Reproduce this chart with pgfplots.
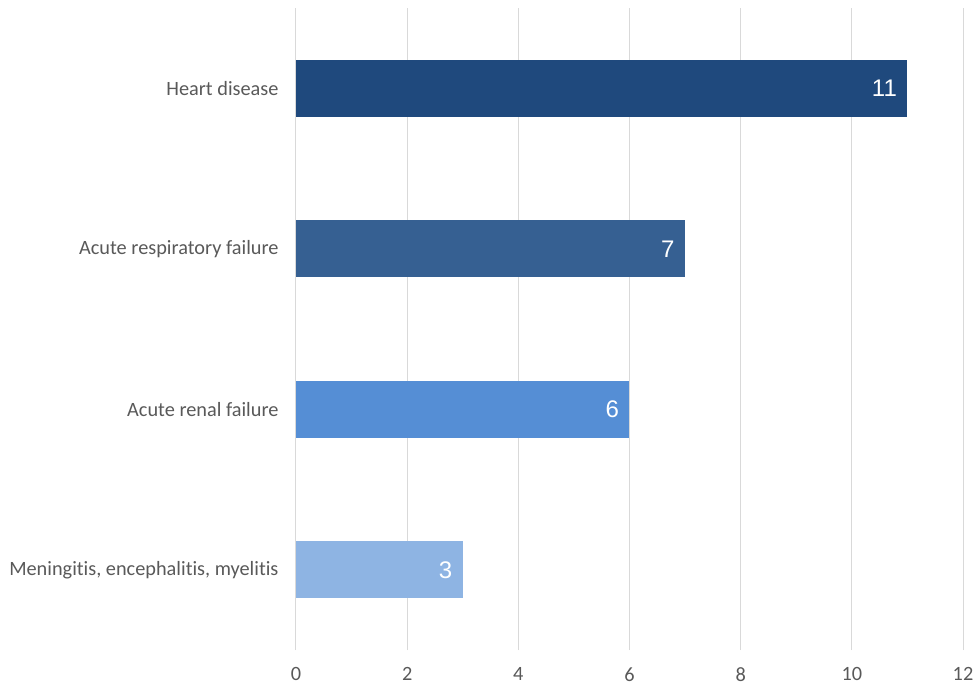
\documentclass[border=0pt]{standalone}
\usepackage{pgfplots}
\pgfplotsset{compat=1.18}
\usepackage{fontspec}
\setmainfont[Ligatures=NoCommon]{Carlito}
\newfontfamily\arialfont{Liberation Sans}
\definecolor{c1}{RGB}{31,73,125}
\definecolor{c2}{RGB}{54,96,146}
\definecolor{c3}{RGB}{85,142,213}
\definecolor{c4}{RGB}{142,180,227}
\definecolor{txt}{RGB}{89,89,89}
\definecolor{gridc}{RGB}{217,217,217}
\begin{document}
\begin{tikzpicture}
\begin{axis}[
  scale only axis,
  width=667pt, height=642pt,
  xbar, bar width=57pt, bar shift=0pt,
  xmin=0, xmax=12, ymin=-0.5, ymax=3.5,
  xtick={0,2,...,12},
  ytick={0,1,2,3},
  yticklabels={{Meningitis, encephalitis, myelitis},{Acute renal failure},{Acute respiratory failure},{Heart disease}},
  axis line style={draw=none},
  major tick length=0pt,
  xmajorgrids, grid style={gridc, line width=1pt},
  ymajorgrids=false,
  /pgf/number format/assume math mode=true,
  tick label style={font=\fontsize{20.3}{23}\selectfont, text=txt},
  xticklabel style={yshift=-14pt},
  yticklabel style={xshift=-14pt},
  nodes near coords,
  every node near coord/.append style={anchor=east, xshift=-7pt, text=white, font=\arialfont\fontsize{24}{26}\selectfont},
]
\addplot[fill=c4, draw=none] coordinates {(3,0)};
\addplot[fill=c3, draw=none] coordinates {(6,1)};
\addplot[fill=c2, draw=none] coordinates {(7,2)};
\addplot[fill=c1, draw=none] coordinates {(11,3)};
\end{axis}
\pgfresetboundingbox
\path ([shift={(-296pt,-36pt)}]current axis.south west) rectangle ([shift={(12pt,8pt)}]current axis.north east);
\end{tikzpicture}
\end{document}
